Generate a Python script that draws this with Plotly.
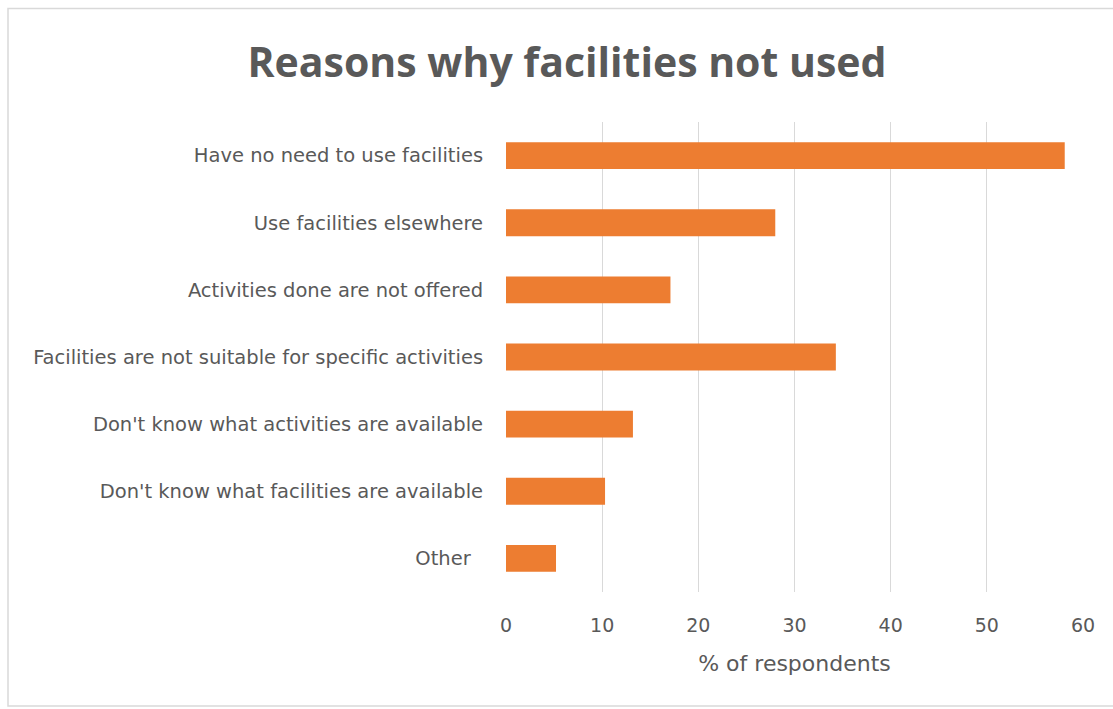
import plotly.graph_objects as go

# Survey responses: reasons the facilities are not used
reasons = [
    "Have no need to use facilities",
    "Use facilities elsewhere",
    "Activities done are not offered",
    "Facilities are not suitable for specific activities",
    "Don't know what activities are available",
    "Don't know what facilities are available",
    "Other\u00a0\u00a0",
]
percent = [58.1, 28.0, 17.1, 34.3, 13.2, 10.3, 5.2]
x_ticks = [0, 10, 20, 30, 40, 50, 60]

W, H = 1113, 709
L, R, T, B = 506, 30, 122, 117
plot_w = W - L - R
plot_h = H - T - B

def px_x(p):
    return (p - L) / plot_w

def px_y(p):
    return (H - B - p) / plot_h

fig = go.Figure(
    go.Bar(
        x=percent,
        y=reasons,
        orientation="h",
        marker=dict(color="#ED7D31", line=dict(width=0)),
        hoverinfo="x+y",
    )
)

title_font = "Open Sans, sans-serif"
label_font = "DejaVu Sans, sans-serif"

fig.update_layout(
    width=W,
    height=H,
    margin=dict(l=L, r=R, t=T, b=B),
    paper_bgcolor="white",
    plot_bgcolor="white",
    bargap=0.6,
    showlegend=False,
    font=dict(family=label_font, color="#595959"),
    title=dict(
        text="<b>Reasons why facilities not used</b>",
        x=567 / W,
        xanchor="center",
        y=1 - 63 / H,
        yanchor="middle",
        font=dict(size=41, color="#595959", family=title_font),
    ),
    xaxis=dict(
        range=[0, 60],
        tickvals=x_ticks,
        ticktext=[str(v) for v in x_ticks],
        showgrid=True,
        gridcolor="#D9D9D9",
        gridwidth=1,
        zeroline=False,
        showline=False,
        ticks="outside",
        ticklen=16,
        tickcolor="rgba(0,0,0,0)",
        tickfont=dict(size=19, color="#595959", family=label_font),
        title=dict(text="% of respondents", font=dict(size=22, color="#595959", family=label_font), standoff=20),
        fixedrange=True,
    ),
    yaxis=dict(
        categoryorder="array",
        categoryarray=reasons[::-1],
        autorange=True,
        showgrid=False,
        zeroline=False,
        showline=False,
        ticks="outside",
        ticklen=18,
        tickcolor="rgba(0,0,0,0)",
        tickfont=dict(size=19.5, color="#595959", family=label_font),
        fixedrange=True,
    ),
    shapes=[
        dict(
            type="rect",
            xref="paper",
            yref="paper",
            x0=px_x(8),
            x1=px_x(1125),
            y0=px_y(706),
            y1=px_y(8.5),
            line=dict(color="#D9D9D9", width=1.5),
            fillcolor="rgba(0,0,0,0)",
            layer="below",
        )
    ],
)

fig.write_html("out.html")
